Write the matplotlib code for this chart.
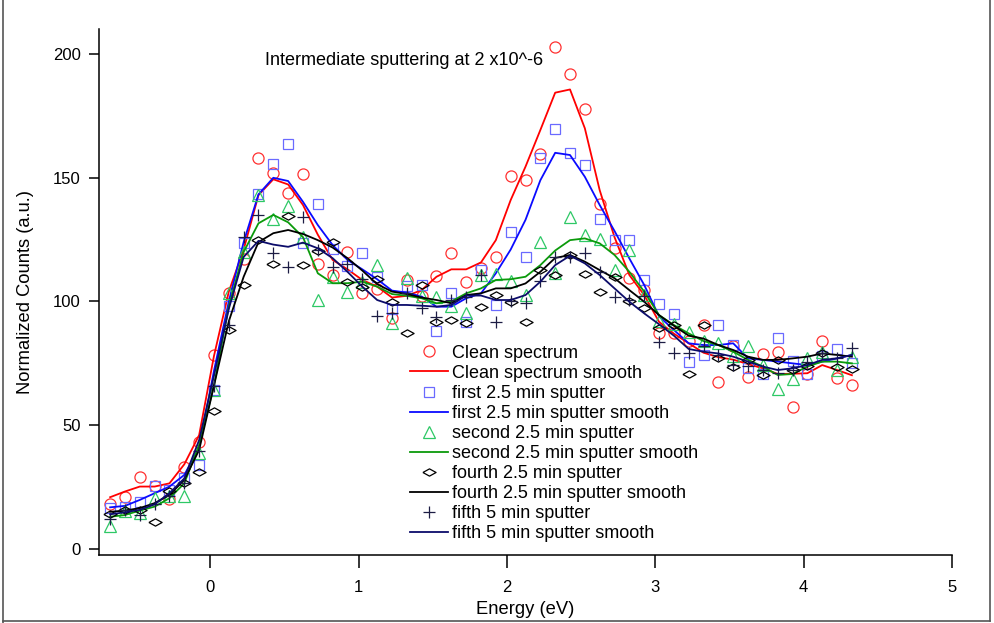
'''
	Valence band spectra during intermediate sputtering.
	Raw points plus smoothed curve for each sputter step.
'''

import matplotlib
matplotlib.use("Agg")
import matplotlib.pyplot as plt
from matplotlib.lines import Line2D

plt.rcParams['font.family'] = ['Liberation Sans', 'DejaVu Sans']

# *** Data ***

energy = [-0.675, -0.575, -0.475, -0.375, -0.275, -0.175, -0.075, 0.025, 0.125, 0.225,
	0.325, 0.425, 0.525, 0.625, 0.725, 0.825, 0.925, 1.025, 1.125, 1.225,
	1.325, 1.425, 1.525, 1.625, 1.725, 1.825, 1.925, 2.025, 2.125, 2.225,
	2.325, 2.425, 2.525, 2.625, 2.725, 2.825, 2.925, 3.025, 3.125, 3.225,
	3.325, 3.425, 3.525, 3.625, 3.725, 3.825, 3.925, 4.025, 4.125, 4.225, 4.325]

clean_pts = [18.0, 21.0, 29.2, 25.6, 20.2, 33.0, 43.4, 78.5, 103.3, 117.0,
	158.0, 152.0, 144.0, 151.5, 115.2, 110.7, 120.1, 103.3, 105.0, 93.2,
	108.7, 102.4, 110.4, 119.5, 107.7, 113.4, 117.9, 150.7, 149.0, 159.6,
	202.8, 192.0, 178.0, 139.3, 121.5, 109.4, 104.6, 87.3, 87.3, 84.0,
	90.5, 67.4, 82.0, 69.6, 78.6, 79.5, 57.5, 70.7, 84.2, 69.1, 66.1]
clean_smooth = [20.9, 23.2, 25.2, 25.2, 26.5, 34.2, 46.0, 78.0, 104.0, 121.0,
	143.0, 149.4, 147.3, 139.0, 127.0, 116.8, 113.0, 108.7, 106.0, 101.6,
	102.3, 104.6, 110.0, 113.0, 113.0, 115.8, 124.8, 141.0, 154.5, 169.3,
	184.4, 185.7, 170.0, 145.0, 126.0, 110.7, 102.6, 91.8, 87.0, 83.1,
	79.3, 77.5, 76.5, 74.7, 73.0, 70.7, 70.8, 71.0, 74.3, 72.3, 70.2]

first_pts = [16.4, 16.8, 18.9, 25.6, 24.0, 28.6, 33.9, 64.2, 98.2, 123.5,
	143.3, 155.4, 163.6, 123.8, 139.4, 121.2, 114.3, 119.8, 110.0, 96.8,
	106.2, 106.7, 88.0, 103.3, 91.6, 112.7, 98.6, 128.2, 118.1, 158.1,
	169.6, 160.1, 155.2, 133.2, 125.0, 124.7, 108.7, 99.0, 95.0, 75.7,
	78.4, 90.5, 82.4, 73.0, 70.7, 85.4, 76.0, 70.7, 78.0, 80.8, 75.0]
first_smooth = [16.8, 17.4, 19.8, 22.5, 25.2, 29.9, 41.0, 72.0, 100.0, 124.0,
	143.3, 150.0, 148.7, 140.3, 130.9, 122.8, 116.8, 113.0, 109.0, 104.4,
	103.6, 102.0, 97.9, 97.9, 101.3, 103.3, 111.4, 121.0, 133.0, 149.0,
	160.1, 159.2, 150.4, 139.0, 128.5, 117.4, 106.7, 94.0, 88.5, 83.1,
	82.4, 82.4, 83.1, 77.0, 76.4, 75.7, 75.0, 74.3, 75.7, 77.0, 78.4]

second_pts = [9.3, 15.5, 14.4, 20.7, 21.4, 21.4, 38.7, 64.2, 103.3, 120.0,
	143.0, 133.3, 138.7, 126.2, 100.6, 110.0, 104.0, 108.0, 114.7, 91.4,
	109.4, 102.3, 102.0, 98.0, 95.2, 110.7, 111.0, 108.3, 102.6, 124.1,
	111.4, 134.3, 126.7, 125.3, 112.7, 120.8, 102.6, 92.3, 91.0, 87.5,
	84.0, 83.4, 78.0, 82.1, 74.3, 64.8, 68.7, 77.0, 79.7, 72.3, 77.7]
second_smooth = [13.0, 13.7, 15.5, 17.1, 20.5, 26.5, 42.0, 66.0, 98.0, 120.0,
	131.6, 135.0, 132.0, 126.0, 111.4, 107.4, 107.4, 108.0, 106.0, 103.0,
	102.3, 101.3, 99.3, 100.0, 103.3, 105.3, 108.7, 109.0, 110.0, 114.7,
	120.6, 124.8, 125.5, 123.5, 118.8, 112.0, 104.0, 94.5, 90.5, 87.1,
	84.0, 82.4, 79.7, 76.4, 73.7, 70.3, 70.7, 73.7, 75.7, 75.7, 75.0]

fourth_pts = [14.0, 15.8, 15.8, 10.8, 23.6, 26.5, 31.0, 55.9, 88.5, 106.7,
	124.7, 115.3, 134.7, 114.7, 120.3, 124.2, 108.0, 106.0, 109.0, 99.9,
	87.2, 106.5, 91.8, 92.5, 91.3, 97.8, 102.6, 99.7, 91.8, 112.7,
	110.7, 118.7, 111.2, 103.7, 109.7, 100.4, 97.2, 89.2, 90.7, 70.5,
	90.5, 77.0, 73.7, 76.4, 70.3, 76.4, 72.3, 73.9, 79.0, 73.7, 72.7]
fourth_smooth = [15.0, 15.5, 16.5, 18.5, 21.8, 27.9, 40.0, 66.0, 92.0, 110.0,
	124.0, 127.6, 128.9, 127.3, 124.8, 121.8, 117.5, 112.5, 107.0, 104.0,
	103.0, 101.6, 100.6, 99.3, 102.6, 103.3, 105.3, 105.3, 107.3, 112.0,
	117.6, 118.8, 116.1, 112.7, 109.4, 104.6, 99.9, 94.5, 90.2, 86.2,
	85.0, 82.4, 80.4, 77.7, 76.4, 76.4, 77.0, 77.7, 79.0, 78.4, 77.7]

fifth_pts = [12.0, 15.8, 13.7, 18.0, 21.4, 26.5, 39.6, 66.0, 90.5, 126.0,
	135.0, 119.5, 113.8, 134.3, 121.0, 113.8, 115.0, 109.2, 94.3, 95.2,
	103.3, 97.2, 93.9, 100.5, 102.0, 110.7, 91.6, 100.2, 99.3, 108.3,
	118.1, 118.0, 119.7, 112.0, 102.0, 100.6, 102.4, 83.8, 79.0, 79.0,
	82.0, 78.4, 74.3, 74.0, 72.3, 71.0, 72.3, 75.7, 79.0, 77.0, 81.3]
fifth_smooth = [14.0, 14.8, 15.8, 18.0, 22.5, 28.5, 44.0, 70.0, 97.0, 118.0,
	124.5, 123.0, 122.1, 123.8, 121.5, 117.5, 112.0, 106.0, 100.6, 98.6,
	98.6, 98.3, 97.9, 98.6, 102.4, 102.4, 100.6, 100.6, 102.6, 108.0,
	114.7, 118.5, 115.4, 110.7, 105.3, 99.9, 95.2, 90.8, 86.2, 80.8,
	79.7, 79.0, 77.7, 75.7, 73.7, 72.3, 73.0, 74.3, 76.4, 77.0, 78.4]

x_ticks = [0, 1, 2, 3, 4, 5]
y_ticks = [0, 50, 100, 150, 200]

# Igor style flat diamond
flat_diamond = [(-1, 0), (0, 0.55), (1, 0), (0, -0.55), (-1, 0)]

# (label, points, smooth, marker, marker size, marker colour, line colour)
series = [
	("Clean spectrum", clean_pts, clean_smooth, 'o', 8, '#ff3030', '#ff0000'),
	("first 2.5 min sputter", first_pts, first_smooth, 's', 7.5, '#6a6aff', '#0a0aff'),
	("second 2.5 min sputter", second_pts, second_smooth, '^', 8.5, '#2ec866', '#0b9a0b'),
	("fourth 2.5 min sputter", fourth_pts, fourth_smooth, flat_diamond, 9.5, '#000000', '#000000'),
	("fifth 5 min sputter", fifth_pts, fifth_smooth, '+', 8, '#1c1c44', '#0c0c6a'),
]


fig = plt.figure(figsize=(9.95, 6.23), dpi=100)
ax = fig.add_axes([0.0995, 0.109, 0.8573, 0.8443])

for label, pts, smooth, mk, ms, mcol, lcol in series:
	ax.plot(energy, pts, linestyle='none', marker=mk, markersize=ms,
		markerfacecolor='none', markeredgecolor=mcol, markeredgewidth=0.9,
		label=label)
	ax.plot(energy, smooth, color=lcol, linewidth=1.3, label=label + " smooth")

ax.set_xlim(-0.75, 5.0)
ax.set_ylim(-2.5, 210.1)
ax.set_xticks(x_ticks)
ax.set_yticks(y_ticks)

for side in ['top', 'right']:
	ax.spines[side].set_visible(False)
for side in ['left', 'bottom']:
	ax.spines[side].set_linewidth(1.1)

ax.tick_params(axis='x', direction='out', length=9, width=1.1, pad=9, labelsize=12)
ax.tick_params(axis='y', direction='out', length=7, width=1.1, pad=6, labelsize=12)

ax.set_xlabel("Energy (eV)", fontsize=13.2, labelpad=4)
ax.set_ylabel("Normalized Counts (a.u.)", fontsize=13.2, labelpad=14)

ax.text(0.1946, 0.941, "Intermediate sputtering at 2 x10^-6", transform=ax.transAxes,
	ha='left', va='center', fontsize=13)

ax.legend(loc='upper left', bbox_to_anchor=(0.3646, 0.40), frameon=False,
	fontsize=13, borderpad=0, borderaxespad=0, labelspacing=0.17,
	handlelength=2.1, handletextpad=0.25)

# thin frame round the picture
for xs, ys in [([0.003, 0.003], [0.0, 1.0]), ([0.003, 0.995], [0.004, 0.004]),
		([0.995, 0.995], [0.004, 1.0])]:
	fig.add_artist(Line2D(xs, ys, color='#555555', linewidth=1.2))

fig.savefig("out.png", dpi=100)
